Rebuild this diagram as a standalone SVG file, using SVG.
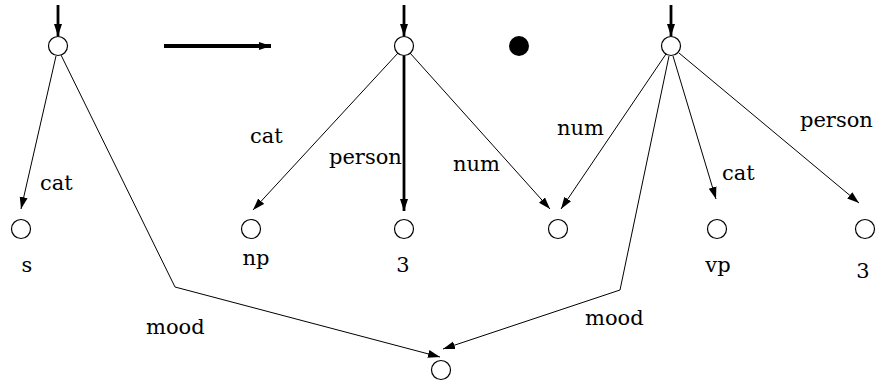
<svg xmlns="http://www.w3.org/2000/svg" width="877" height="387" viewBox="0 0 877 387">
<style>
.n{fill:#fff;stroke:#000;stroke-width:1.2}
.e{fill:none;stroke:#000;stroke-width:1}
.t{fill:none;stroke:#000;stroke-width:2.8}
.l{font-family:'DejaVu Serif',serif;font-size:21px;fill:#000}
</style>
<defs>
<marker id="a" markerUnits="userSpaceOnUse" markerWidth="13" markerHeight="9" refX="12" refY="4.5" orient="auto">
<path d="M0,0.5 L12,4.5 L0,8.5 z" fill="#000"/>
</marker>
</defs>
<rect width="877" height="387" fill="#fff"/>
<g id="connectors">
<line class="t" x1="58" y1="5" x2="58" y2="36" marker-end="url(#a)"/>
<line class="t" x1="404" y1="5" x2="404" y2="36" marker-end="url(#a)"/>
<line class="t" x1="671" y1="5" x2="671" y2="36" marker-end="url(#a)"/>
<line x1="164" y1="46" x2="271" y2="46" stroke="#000" stroke-width="4" marker-end="url(#a)"/>
<line class="e" x1="56" y1="56" x2="21" y2="209" marker-end="url(#a)"/>
<polyline class="e" points="61,55 175,287 440,357" marker-end="url(#a)"/>
<line class="e" x1="398" y1="53" x2="253" y2="210" marker-end="url(#a)"/>
<line class="t" x1="404" y1="56" x2="404" y2="211" marker-end="url(#a)"/>
<line class="e" x1="410" y1="53" x2="550" y2="209" marker-end="url(#a)"/>
<line class="e" x1="666" y1="54" x2="561" y2="209" marker-end="url(#a)"/>
<polyline class="e" points="669,56 620,290 443,349" marker-end="url(#a)"/>
<line class="e" x1="673" y1="56" x2="716" y2="199" marker-end="url(#a)"/>
<line class="e" x1="679" y1="53" x2="859" y2="203" marker-end="url(#a)"/>
</g>
<g id="nA"><circle class="n" cx="58" cy="46" r="9.5"/></g>
<g id="nB"><circle class="n" cx="404" cy="46" r="9.5"/></g>
<g id="nC"><circle class="n" cx="671" cy="46" r="9.5"/></g>
<g id="dot"><circle cx="519" cy="46" r="10" fill="#000"/></g>
<g id="nS"><circle class="n" cx="21" cy="229" r="9.5"/><text class="l" x="27" y="272" text-anchor="middle">s</text></g>
<g id="nNP"><circle class="n" cx="251" cy="229" r="9.5"/><text class="l" x="256" y="265" text-anchor="middle">np</text></g>
<g id="n3a"><circle class="n" cx="404" cy="229" r="9.5"/><text class="l" x="403" y="272" text-anchor="middle">3</text></g>
<g id="nNum"><circle class="n" cx="558" cy="229" r="9.5"/></g>
<g id="nVP"><circle class="n" cx="717" cy="229" r="9.5"/><text class="l" x="718" y="272" text-anchor="middle">vp</text></g>
<g id="n3b"><circle class="n" cx="865" cy="229" r="9.5"/><text class="l" x="863" y="278" text-anchor="middle">3</text></g>
<g id="nMood"><circle class="n" cx="441" cy="370" r="9.5"/></g>
<g id="labels" class="l">
<text x="40" y="190">cat</text>
<text x="250" y="143">cat</text>
<text x="329" y="164">person</text>
<text x="453" y="171">num</text>
<text x="557" y="135">num</text>
<text x="800" y="127">person</text>
<text x="722" y="180">cat</text>
<text x="146" y="334">mood</text>
<text x="585" y="325">mood</text>
</g>
</svg>
